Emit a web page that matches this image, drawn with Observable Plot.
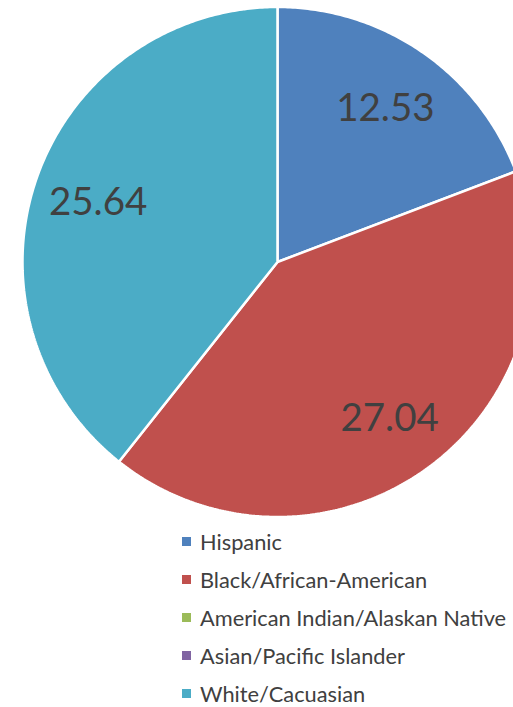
<!DOCTYPE html>
<html><head><meta charset="utf-8">
<script src="https://cdn.jsdelivr.net/npm/d3@7"></script>
<script src="https://cdn.jsdelivr.net/npm/@observablehq/plot@0.6"></script>
<style>
html,body{margin:0;padding:0;background:#fff;overflow:hidden}
body{width:513px;height:707px;position:relative;font-family:Lato,"Open Sans",sans-serif}
#chart svg{overflow:hidden}
#legend{position:absolute;left:182px;top:522px}
.item{display:flex;align-items:center;height:38px;color:#404040;font-size:21.8px;white-space:nowrap}
.sw{width:9px;height:9px;margin-right:9px;flex:none}
</style></head><body><div id="chart"></div><div id="legend"></div>
<script>
const categories = ["Hispanic","Black/African-American","American Indian/Alaskan Native","Asian/Pacific Islander","White/Cacuasian"];
const values = [12.53, 27.04, 0, 0, 25.64];
const colors = ["#4F81BD","#C0504D","#9BBB59","#8064A2","#4BACC6"];

const table = categories.map((c, i) => ({cat: c, value: values[i]}));
const arcs = d3.pie().sort(null).value(d => d.value)(table);

const poly = [];
const labels = [];
for (const a of arcs) {
  if (a.data.value <= 0) continue;
  poly.push({cat: a.data.cat, x: 0, y: 0});
  const n = Math.max(2, Math.ceil((a.endAngle - a.startAngle) / 0.01));
  for (let k = 0; k <= n; k++) {
    const t = a.startAngle + (a.endAngle - a.startAngle) * k / n;
    poly.push({cat: a.data.cat, x: Math.sin(t), y: Math.cos(t)});
  }
  const m = (a.startAngle + a.endAngle) / 2;
  labels.push({cat: a.data.cat, x: 0.745 * Math.sin(m), y: 0.745 * Math.cos(m), text: a.data.value.toFixed(2)});
}

const chart = Plot.plot({
  width: 513,
  height: 522,
  margin: 0,
  style: {background: "white", fontFamily: "Lato, 'Open Sans', sans-serif"},
  x: {domain: [-1, 1], range: [22, 532], axis: null},
  y: {domain: [-1, 1], range: [516.5, 6.5], axis: null},
  color: {domain: categories, range: colors},
  marks: [
    Plot.line(poly, {x: "x", y: "y", z: "cat", fill: "cat", stroke: "white", strokeWidth: 2.5, strokeLinejoin: "miter", curve: "linear-closed"}),
    Plot.text(labels, {x: "x", y: "y", text: "text", fontSize: 38.5, dy: 3, fill: "#404040"})
  ]
});
document.getElementById("chart").appendChild(chart);

const legend = document.getElementById("legend");
categories.forEach((c, i) => {
  const item = document.createElement("div");
  item.className = "item";
  const sw = document.createElement("span");
  sw.className = "sw";
  sw.style.background = colors[i];
  const tx = document.createElement("span");
  tx.textContent = c;
  item.appendChild(sw);
  item.appendChild(tx);
  legend.appendChild(item);
});
</script>
</body></html>
